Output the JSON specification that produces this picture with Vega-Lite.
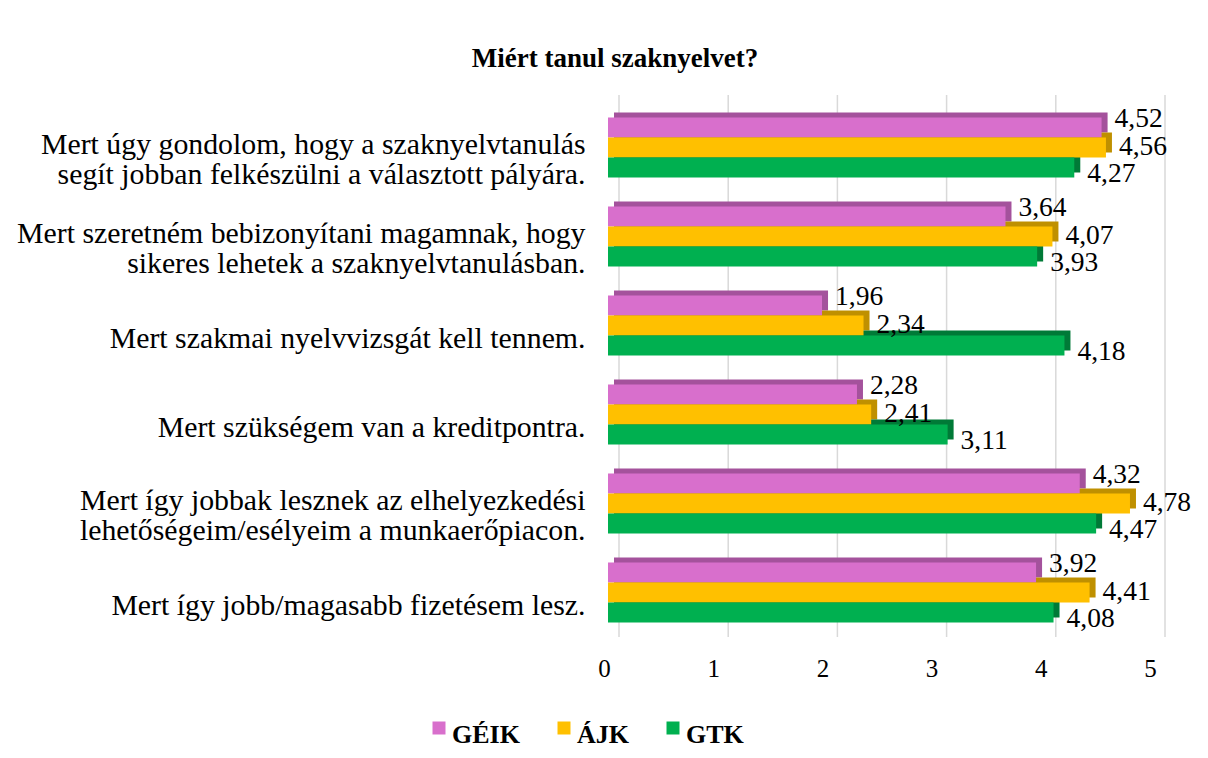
{
  "$schema": "https://vega.github.io/schema/vega-lite/v6.json",
  "width": 546,
  "height": 534,
  "autosize": {"type": "none"},
  "padding": {"left": 608, "top": 103, "right": 54, "bottom": 121},
  "background": "white",
  "title": {
    "text": "Miért tanul szaknyelvet?",
    "font": "Liberation Serif",
    "fontSize": 27,
    "fontWeight": "bold",
    "color": "#000000",
    "anchor": "middle",
    "frame": "group",
    "dx": -266,
    "offset": 21
  },
  "datasets": {
    "main": [
      {"category": "Mert úgy gondolom, hogy a szaknyelvtanulás|segít jobban felkészülni a választott pályára.", "series": "GÉIK", "value": 4.52},
      {"category": "Mert úgy gondolom, hogy a szaknyelvtanulás|segít jobban felkészülni a választott pályára.", "series": "ÁJK", "value": 4.56},
      {"category": "Mert úgy gondolom, hogy a szaknyelvtanulás|segít jobban felkészülni a választott pályára.", "series": "GTK", "value": 4.27},
      {"category": "Mert szeretném bebizonyítani magamnak, hogy|sikeres lehetek a szaknyelvtanulásban.", "series": "GÉIK", "value": 3.64},
      {"category": "Mert szeretném bebizonyítani magamnak, hogy|sikeres lehetek a szaknyelvtanulásban.", "series": "ÁJK", "value": 4.07},
      {"category": "Mert szeretném bebizonyítani magamnak, hogy|sikeres lehetek a szaknyelvtanulásban.", "series": "GTK", "value": 3.93},
      {"category": "Mert szakmai nyelvvizsgát kell tennem.", "series": "GÉIK", "value": 1.96},
      {"category": "Mert szakmai nyelvvizsgát kell tennem.", "series": "ÁJK", "value": 2.34},
      {"category": "Mert szakmai nyelvvizsgát kell tennem.", "series": "GTK", "value": 4.18},
      {"category": "Mert szükségem van a kreditpontra.", "series": "GÉIK", "value": 2.28},
      {"category": "Mert szükségem van a kreditpontra.", "series": "ÁJK", "value": 2.41},
      {"category": "Mert szükségem van a kreditpontra.", "series": "GTK", "value": 3.11},
      {"category": "Mert így jobbak lesznek az elhelyezkedési|lehetőségeim/esélyeim a munkaerőpiacon.", "series": "GÉIK", "value": 4.32},
      {"category": "Mert így jobbak lesznek az elhelyezkedési|lehetőségeim/esélyeim a munkaerőpiacon.", "series": "ÁJK", "value": 4.78},
      {"category": "Mert így jobbak lesznek az elhelyezkedési|lehetőségeim/esélyeim a munkaerőpiacon.", "series": "GTK", "value": 4.47},
      {"category": "Mert így jobb/magasabb fizetésem lesz.", "series": "GÉIK", "value": 3.92},
      {"category": "Mert így jobb/magasabb fizetésem lesz.", "series": "ÁJK", "value": 4.41},
      {"category": "Mert így jobb/magasabb fizetésem lesz.", "series": "GTK", "value": 4.08}
    ],
    "grid": [{"g": 0}, {"g": 1}, {"g": 2}, {"g": 3}, {"g": 4}, {"g": 5}]
  },
  "layer": [
    {
      "data": {"name": "grid"},
      "mark": {"type": "rule", "color": "#D9D9D9", "strokeWidth": 1.5, "xOffset": 11, "yOffset": -8, "y2Offset": -8},
      "encoding": {
        "x": {
          "field": "g",
          "type": "quantitative",
          "scale": {"domain": [0, 5], "nice": false},
          "axis": {
            "values": [0, 1, 2, 3, 4, 5],
            "format": "d",
            "grid": false,
            "domain": false,
            "ticks": false,
            "title": null,
            "labelFont": "Liberation Serif",
            "labelFontSize": 25,
            "labelColor": "#000000",
            "labelPadding": 19,
            "labelOffset": -4,
            "labelFlush": false
          }
        }
      }
    },
    {
      "data": {"name": "main"},
      "mark": {"type": "bar", "xOffset": 6},
      "encoding": {
        "y": {"field": "category", "type": "nominal", "sort": null, "scale": {"paddingInner": 0.326, "paddingOuter": 0.163}},
        "yOffset": {"field": "series", "type": "nominal", "sort": ["GÉIK", "ÁJK", "GTK"], "scale": {"domain": ["GÉIK", "ÁJK", "GTK"], "range": [-5, 55], "paddingInner": 0, "paddingOuter": 0}},
        "x": {"field": "value", "type": "quantitative", "scale": {"domain": [0, 5], "nice": false}},
        "color": {
          "field": "series",
          "type": "nominal",
          "scale": {"domain": ["GÉIK", "ÁJK", "GTK"], "range": ["#A4529C", "#BF9000", "#007A37"]},
          "legend": null
        }
      }
    },
    {
      "data": {"name": "main"},
      "mark": {"type": "bar"},
      "encoding": {
        "y": {
          "field": "category",
          "type": "nominal",
          "sort": null,
          "scale": {"paddingInner": 0.326, "paddingOuter": 0.163},
          "axis": {
            "title": null,
            "domain": false,
            "ticks": false,
            "grid": false,
            "labelExpr": "split(datum.value, '|')",
            "labelFont": "Liberation Serif",
            "labelFontSize": 29.8,
            "labelLineHeight": 30,
            "labelColor": "#000000",
            "labelAlign": "right",
            "labelBaseline": "middle",
            "labelPadding": 23,
            "labelOffset": {"condition": {"test": "indexof(datum.value, '|') >= 0", "value": -3}, "value": 13},
            "labelLimit": 700
          }
        },
        "yOffset": {"field": "series", "type": "nominal", "sort": ["GÉIK", "ÁJK", "GTK"], "scale": {"domain": ["GÉIK", "ÁJK", "GTK"], "paddingInner": 0, "paddingOuter": 0}},
        "x": {"field": "value", "type": "quantitative", "scale": {"domain": [0, 5], "nice": false}},
        "color": {
          "field": "series",
          "type": "nominal",
          "scale": {"domain": ["GÉIK", "ÁJK", "GTK"], "range": ["#D86FCC", "#FFC000", "#00B050"]},
          "legend": {
            "orient": "none",
            "legendX": -182,
            "legendY": 612,
            "direction": "horizontal",
            "title": null,
            "symbolType": "square",
            "symbolSize": 169,
            "symbolStrokeWidth": 0,
            "labelFont": "Liberation Serif",
            "labelFontSize": 26,
            "labelFontWeight": "bold",
            "labelColor": "#000000",
            "labelOffset": 0,
            "columnPadding": 31,
            "padding": 0,
            "labelLimit": 200,
            "encode": {"labels": {"update": {"dy": {"value": 7}}}}
          }
        }
      }
    },
    {
      "data": {"name": "main"},
      "transform": [{"filter": "datum.series === 'GÉIK'"}],
      "mark": {"type": "text", "align": "left", "baseline": "middle", "dx": 13, "dy": 1, "font": "Liberation Serif", "fontSize": 27.5, "color": "#000000"},
      "encoding": {
        "y": {"field": "category", "type": "nominal", "sort": null},
        "yOffset": {"field": "series", "type": "nominal", "sort": ["GÉIK", "ÁJK", "GTK"], "scale": {"domain": ["GÉIK", "ÁJK", "GTK"], "paddingInner": 0, "paddingOuter": 0}},
        "x": {"field": "value", "type": "quantitative", "scale": {"domain": [0, 5], "nice": false}},
        "text": {"field": "value", "type": "quantitative", "format": ".2f"}
      }
    },
    {
      "data": {"name": "main"},
      "transform": [{"filter": "datum.series === 'ÁJK'"}],
      "mark": {"type": "text", "align": "left", "baseline": "middle", "dx": 13, "dy": -1, "font": "Liberation Serif", "fontSize": 27.5, "color": "#000000"},
      "encoding": {
        "y": {"field": "category", "type": "nominal", "sort": null},
        "yOffset": {"field": "series", "type": "nominal", "sort": ["GÉIK", "ÁJK", "GTK"], "scale": {"domain": ["GÉIK", "ÁJK", "GTK"], "paddingInner": 0, "paddingOuter": 0}},
        "x": {"field": "value", "type": "quantitative", "scale": {"domain": [0, 5], "nice": false}},
        "text": {"field": "value", "type": "quantitative", "format": ".2f"}
      }
    },
    {
      "data": {"name": "main"},
      "transform": [{"filter": "datum.series === 'GTK'"}],
      "mark": {"type": "text", "align": "left", "baseline": "middle", "dx": 13, "dy": -3, "font": "Liberation Serif", "fontSize": 27.5, "color": "#000000"},
      "encoding": {
        "y": {"field": "category", "type": "nominal", "sort": null},
        "yOffset": {"field": "series", "type": "nominal", "sort": ["GÉIK", "ÁJK", "GTK"], "scale": {"domain": ["GÉIK", "ÁJK", "GTK"], "paddingInner": 0, "paddingOuter": 0}},
        "x": {"field": "value", "type": "quantitative", "scale": {"domain": [0, 5], "nice": false}},
        "text": {"field": "value", "type": "quantitative", "format": ".2f"}
      }
    }
  ],
  "resolve": {"scale": {"color": "independent", "yOffset": "independent"}},
  "config": {
    "view": {"stroke": null},
    "locale": {"number": {"decimal": ",", "thousands": " ", "grouping": [3], "currency": ["", ""]}}
  }
}
